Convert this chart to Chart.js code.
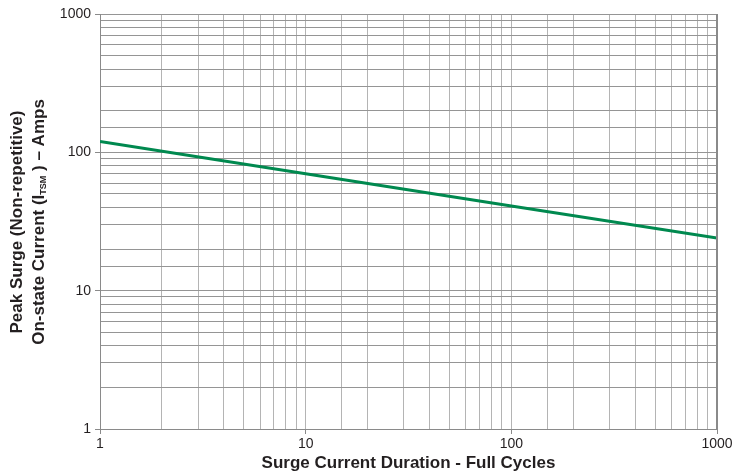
<!DOCTYPE html>
<html>
<head>
<meta charset="utf-8">
<script src="https://cdn.jsdelivr.net/npm/chart.js@4"></script>
<style>
html,body{margin:0;padding:0;background:#fff;}
#wrap{width:735px;height:474px;position:relative;}
</style>
</head>
<body>
<div id="wrap"><canvas id="c" width="735" height="474"></canvas></div>
<script>
const cycles = [1, 10, 100, 1000];
const surgeAmps = [120, 70, 41, 24];
const majorTicks = [1, 10, 100, 1000];
const xTitle = 'Surge Current Duration - Full Cycles';
const yTitle1 = 'Peak Surge (Non-repetitive)';
const yTitle2a = 'On-state Current (I';
const yTitle2sub = 'TSM';
const yTitle2b = ' ) \u2013 Amps';

const isMajor = v => majorTicks.some(m => Math.abs(m - v) < 1e-9);

const titlePlugin = {
  id: 'titles',
  afterDraw(chart) {
    const ctx = chart.ctx;
    const ca = chart.chartArea;
    ctx.save();
    ctx.fillStyle = '#231f20';
    const f = 'bold 17px "Liberation Sans", Arial, sans-serif';
    const fs = 'bold 9px "Liberation Sans", Arial, sans-serif';
    ctx.font = f;
    ctx.textAlign = 'center';
    ctx.textBaseline = 'middle';
    ctx.fillText(xTitle, (ca.left + ca.right) / 2, 463);
    // y title
    const cy = 222;
    ctx.translate(0, cy);
    ctx.rotate(-Math.PI / 2);
    ctx.fillText(yTitle1, 0, 17);
    ctx.font = f;
    const wA = ctx.measureText(yTitle2a).width;
    const wB = ctx.measureText(yTitle2b).width;
    ctx.font = fs;
    const wS = ctx.measureText(yTitle2sub).width;
    const total = wA + wS + wB;
    let x0 = -total / 2;
    ctx.textAlign = 'left';
    ctx.font = f;
    ctx.fillText(yTitle2a, x0, 39);
    ctx.font = fs;
    ctx.fillText(yTitle2sub, x0 + wA, 44);
    ctx.font = f;
    ctx.fillText(yTitle2b, x0 + wA + wS, 39);
    ctx.restore();
  }
};

new Chart(document.getElementById('c'), {
  type: 'line',
  data: {
    datasets: [{
      data: cycles.map((c, i) => ({x: c, y: surgeAmps[i]})),
      borderColor: '#00894f',
      borderWidth: 3,
      pointRadius: 0,
      tension: 0,
      fill: false
    }]
  },
  options: {
    responsive: false,
    animation: false,
    devicePixelRatio: 1,
    layout: {padding: {top: 14, right: 18, left: 0, bottom: 0}},
    plugins: {legend: {display: false}, tooltip: {enabled: false}},
    scales: {
      x: {
        type: 'logarithmic',
        min: 1, max: 1000,
        afterFit(s) { s.height = 45; },
        border: {display: true, color: '#8a8a8a', width: 1},
        grid: {
          color: '#b4b4b4',
          lineWidth: 1,
          drawTicks: true,
          tickLength: 5,
          tickColor: c => isMajor(c.tick.value) ? '#8a8a8a' : 'rgba(0,0,0,0)'
        },
        ticks: {
          autoSkip: false,
          maxRotation: 0,
          padding: 2,
          color: '#231f20',
          font: {family: '"Liberation Sans", Arial, sans-serif', size: 14},
          callback: v => isMajor(v) ? String(v) : ''
        }
      },
      y: {
        type: 'logarithmic',
        min: 1, max: 1000,
        afterFit(s) { s.width = 100; },
        border: {display: true, color: '#8a8a8a', width: 1},
        grid: {
          color: '#959595',
          lineWidth: 1,
          drawTicks: true,
          tickLength: 5,
          tickColor: c => isMajor(c.tick.value) ? '#8a8a8a' : 'rgba(0,0,0,0)'
        },
        ticks: {
          autoSkip: false,
          padding: 4,
          color: '#231f20',
          font: {family: '"Liberation Sans", Arial, sans-serif', size: 14},
          callback: v => isMajor(v) ? String(v) : ''
        }
      }
    }
  },
  plugins: [titlePlugin, {
    id: 'rightBorder',
    afterDraw(chart) {
      const ctx = chart.ctx, ca = chart.chartArea;
      ctx.save();
      ctx.strokeStyle = '#8a8a8a';
      ctx.lineWidth = 2;
      ctx.beginPath();
      ctx.moveTo(ca.right, ca.top);
      ctx.lineTo(ca.right, ca.bottom);
      ctx.stroke();
      ctx.restore();
    }
  }]
});
</script>
</body>
</html>
